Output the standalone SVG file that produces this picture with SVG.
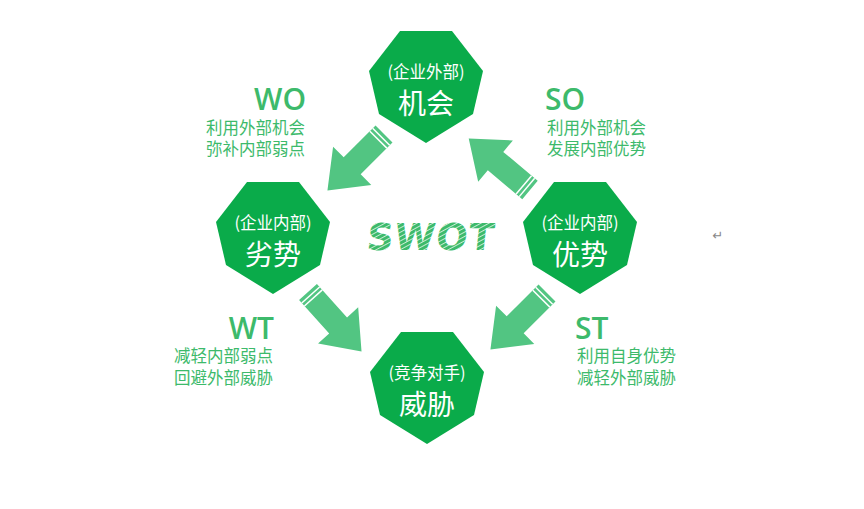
<svg xmlns="http://www.w3.org/2000/svg" width="864" height="509" viewBox="0 0 864 509">
<style>
.hex{fill:#0aab4a}
.sub{font-family:"Noto Sans CJK SC",sans-serif;font-size:16.5px;fill:#fff;text-anchor:middle}
.main{font-family:"Noto Sans CJK SC",sans-serif;font-size:28px;fill:#fff;text-anchor:middle}
.big{font-family:"Open Sans","Noto Sans",sans-serif;font-size:30px;font-weight:600;fill:#3dba6b}
.sm{font-family:"Noto Sans CJK SC",sans-serif;font-size:16.5px;fill:#3dba6b}
.arr{fill:#52c582}
.st{stroke:#fff;stroke-width:1.5}
</style>
<defs>
<polygon id="hep" points="-26,0 26,0 57,40 47,83 0,112 -47,83 -57,40"/>
<g id="arrow"><polygon class="arr" points="0,-12 45,-12 45,-27 80,0 45,27 45,12 0,12"/><line class="st" x1="4" y1="-12" x2="4" y2="12"/><line class="st" x1="8" y1="-12" x2="8" y2="12"/></g>
<pattern id="hatch" width="4" height="4" patternUnits="userSpaceOnUse" patternTransform="rotate(60)"><rect width="4" height="4" fill="#3dba6b"/><rect width="0.9" height="4" fill="#d8f2e0"/></pattern>
</defs>
<rect width="864" height="509" fill="#fff"/>
<g id="connectors">
<use href="#arrow" transform="translate(384,134) rotate(135)"/>
<use href="#arrow" transform="translate(530,190) rotate(-140)"/>
<use href="#arrow" transform="translate(308,292) rotate(48)"/>
<use href="#arrow" transform="translate(547,293) rotate(135)"/>
</g>
<g id="opportunity"><use href="#hep" class="hex" transform="translate(426,31)"/><text class="sub" x="426" y="78">(企业外部)</text><text class="main" x="426" y="114">机会</text></g>
<g id="weakness"><use href="#hep" class="hex" transform="translate(273,182)"/><text class="sub" x="273" y="229">(企业内部)</text><text class="main" x="273" y="265">劣势</text></g>
<g id="strength"><use href="#hep" class="hex" transform="translate(580,182)"/><text class="sub" x="580" y="229">(企业内部)</text><text class="main" x="580" y="265">优势</text></g>
<g id="threat"><use href="#hep" class="hex" transform="translate(427,332)"/><text class="sub" x="427" y="379">(竞争对手)</text><text class="main" x="427" y="415">威胁</text></g>
<text x="430" y="250" text-anchor="middle" font-family="'DejaVu Sans',sans-serif" font-weight="bold" font-size="37" letter-spacing="1" transform="skewX(-6) translate(26,0)" fill="url(#hatch)">SWOT</text>
<g id="wo"><text class="big" x="306" y="110" text-anchor="end">WO</text><text class="sm" x="305" y="134" text-anchor="end">利用外部机会</text><text class="sm" x="305" y="155" text-anchor="end">弥补内部弱点</text></g>
<g id="so"><text class="big" x="545" y="110">SO</text><text class="sm" x="547" y="134">利用外部机会</text><text class="sm" x="547" y="155">发展内部优势</text></g>
<g id="wt"><text class="big" x="274" y="339" text-anchor="end">WT</text><text class="sm" x="273" y="362" text-anchor="end">减轻内部弱点</text><text class="sm" x="273" y="384" text-anchor="end">回避外部威胁</text></g>
<g id="stg"><text class="big" x="575" y="339">ST</text><text class="sm" x="577" y="362">利用自身优势</text><text class="sm" x="577" y="384">减轻外部威胁</text></g>
<text x="718" y="240" font-family="'DejaVu Sans',sans-serif" font-size="13" fill="#888" text-anchor="middle">↵</text>
</svg>
